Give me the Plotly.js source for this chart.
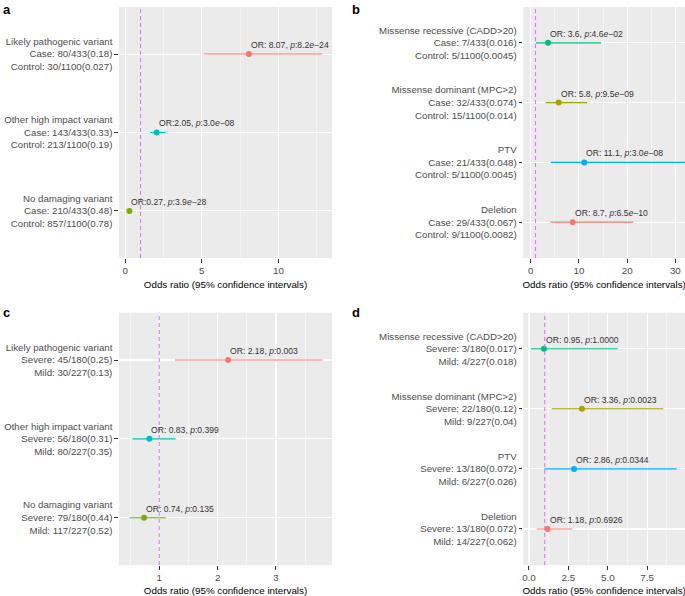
<!DOCTYPE html>
<html>
<head>
<meta charset="utf-8">
<script src="https://cdn.plot.ly/plotly-3.0.1.min.js"></script>
<style>html,body{margin:0;padding:0;background:#fff;}#chart{width:685px;height:596px;}</style>
</head>
<body>
<div id="chart"></div>
<script>
// ---- Panel a: case vs control ----
const namesA = ["Likely pathogenic variant", "Other high impact variant", "No damaging variant"];
const line2A = ["Case: 80/433(0.18)", "Case: 143/433(0.33)", "Case: 210/433(0.48)"];
const line3A = ["Control: 30/1100(0.027)", "Control: 213/1100(0.19)", "Control: 857/1100(0.78)"];
const orA = [8.07, 2.05, 0.27];
const loA = [5.14, 1.63, 0.20];
const hiA = [12.87, 2.64, 0.35];
const pA = ["8.2e−24", "3.0e−08", "3.9e−28"];
const sepA = [" ", "", ""];
const colorsA = ["#F8766D", "#00BFC4", "#7CAE00"];

// ---- Panel b: case vs control ----
const namesB = ["Missense recessive (CADD>20)", "Missense dominant (MPC>2)", "PTV", "Deletion"];
const line2B = ["Case: 7/433(0.016)", "Case: 32/433(0.074)", "Case: 21/433(0.048)", "Case: 29/433(0.067)"];
const line3B = ["Control: 5/1100(0.0045)", "Control: 15/1100(0.014)", "Control: 5/1100(0.0045)", "Control: 9/1100(0.0082)"];
const orB = [3.6, 5.8, 11.1, 8.7];
const loB = [1.1, 3.1, 4.15, 4.07];
const hiB = [14.6, 11.7, 36, 21.3];
const pB = ["4.6e−02", "9.5e−09", "3.0e−08", "6.5e−10"];
const sepB = [" ", " ", " ", " "];
const colorsB = ["#00BF7D", "#A3A500", "#00B0F6", "#F8766D"];

// ---- Panel c: severe vs mild ----
const namesC = ["Likely pathogenic variant", "Other high impact variant", "No damaging variant"];
const line2C = ["Severe: 45/180(0.25)", "Severe: 56/180(0.31)", "Severe: 79/180(0.44)"];
const line3C = ["Mild: 30/227(0.13)", "Mild: 80/227(0.35)", "Mild: 117/227(0.52)"];
const orC = [2.18, 0.83, 0.74];
const loC = [1.27, 0.54, 0.49];
const hiC = [3.80, 1.28, 1.11];
const pC = ["0.003", "0.399", "0.135"];
const sepC = [" ", " ", " "];
const colorsC = ["#F8766D", "#00BFC4", "#7CAE00"];

// ---- Panel d: severe vs mild ----
const namesD = ["Missense recessive (CADD>20)", "Missense dominant (MPC>2)", "PTV", "Deletion"];
const line2D = ["Severe: 3/180(0.017)", "Severe: 22/180(0.12)", "Severe: 13/180(0.072)", "Severe: 13/180(0.072)"];
const line3D = ["Mild: 4/227(0.018)", "Mild: 9/227(0.04)", "Mild: 6/227(0.026)", "Mild: 14/227(0.062)"];
const orD = [0.95, 3.36, 2.86, 1.18];
const loD = [0.13, 1.44, 0.97, 0.49];
const hiD = [5.63, 8.52, 9.37, 2.75];
const pD = ["1.0000", "0.0023", "0.0344", "0.6926"];
const sepD = [" ", " ", " ", " "];
const colorsD = ["#00BF7D", "#A3A500", "#00B0F6", "#F8766D"];

const W = 685, H = 596;
const FONT = "Liberation Sans, Arial, Helvetica, sans-serif";

const panels = [
  {key: "a", names: namesA, l2: line2A, l3: line3A, or: orA, lo: loA, hi: hiA, p: pA, sep: sepA, colors: colorsA,
   px: [119, 332], py: [7, 258], range: [-0.41, 13.5], dtick: 5, tick0: 0, minor: 2.5, ref: "#C77CFF", ax: "", lab: [1, 0], tickfmt: ""},
  {key: "b", names: namesB, l2: line2B, l3: line3B, or: orB, lo: loB, hi: hiB, p: pB, sep: sepB, colors: colorsB,
   px: [523.3, 685], py: [7, 258], range: [-1.54, 32.0], dtick: 10, tick0: 0, minor: 5, ref: "#E76BF3", ax: "2", lab: [350, 0], tickfmt: ""},
  {key: "c", names: namesC, l2: line2C, l3: line3C, or: orC, lo: loC, hi: hiC, p: pC, sep: sepC, colors: colorsC,
   px: [119, 332], py: [312.7, 565], range: [0.31, 3.96], dtick: 1, tick0: 0, minor: 0.5, ref: "#C77CFF", ax: "3", lab: [1, 303], tickfmt: ""},
  {key: "d", names: namesD, l2: line2D, l3: line3D, or: orD, lo: loD, hi: hiD, p: pD, sep: sepD, colors: colorsD,
   px: [523.3, 685], py: [312.7, 565], range: [-0.36, 9.9], dtick: 2.5, tick0: 0, minor: 1.25, ref: "#E76BF3", ax: "4", lab: [350, 303], tickfmt: ".1f"}
];

const traces = [];
const layout = {
  width: W, height: H,
  margin: {l: 0, r: 0, t: 0, b: 0},
  paper_bgcolor: "#FFFFFF",
  plot_bgcolor: "#EBEBEB",
  showlegend: false,
  font: {family: FONT, size: 9.8, color: "#000"},
  annotations: [],
  shapes: []
};

function italicP(s) { return s.replace("e", "<i>e</i>"); }

panels.forEach(P => {
  const n = P.names.length;
  const xa = "x" + P.ax, ya = "y" + P.ax;
  const rows = P.names.map((_, i) => i + 1);
  const ticktext = P.names.map((nm, i) => nm + "<br>" + P.l2[i] + "<br>" + P.l3[i]);

  layout["xaxis" + P.ax] = {
    domain: [P.px[0] / W, P.px[1] / W],
    anchor: ya,
    range: P.range,
    tick0: P.tick0, dtick: P.dtick,
    tickformat: P.tickfmt,
    showgrid: true, gridcolor: "#FFFFFF", gridwidth: 1.1,
    minor: {dtick: P.minor, tick0: P.tick0, showgrid: true, gridcolor: "#FFFFFF", gridwidth: 0.5, ticks: ""},
    zeroline: false, showline: false,
    ticks: "outside", ticklen: 3.7, tickwidth: 1, tickcolor: "#333333",
    tickfont: {family: FONT, size: 9.8, color: "#4D4D4D"},
    title: {text: "Odds ratio (95% confidence intervals)", font: {family: FONT, size: 9.8, color: "#000"}, standoff: 5},
    fixedrange: true
  };
  layout["yaxis" + P.ax] = {
    domain: [1 - P.py[1] / H, 1 - P.py[0] / H],
    anchor: xa,
    range: [n + 0.6, 0.4],
    tickmode: "array", tickvals: rows, ticktext: ticktext,
    showgrid: true, gridcolor: "#FFFFFF", gridwidth: 1.1,
    zeroline: false, showline: false,
    ticks: "outside", ticklen: 3.7, tickwidth: 1, tickcolor: "#333333",
    tickfont: {family: FONT, size: 9.7, color: "#4D4D4D"},
    fixedrange: true
  };

  // reference line at OR = 1
  layout.shapes.push({
    type: "line", xref: xa, yref: ya + " domain", x0: 1, x1: 1, y0: 0, y1: 1,
    line: {color: P.ref, width: 1, dash: "4px,3px"}, layer: "above"
  });

  P.names.forEach((nm, i) => {
    traces.push({
      type: "scatter", mode: "markers", xaxis: xa, yaxis: ya,
      x: [P.or[i]], y: [rows[i]],
      marker: {color: P.colors[i], size: 6},
      error_x: {type: "data", symmetric: false, array: [P.hi[i] - P.or[i]], arrayminus: [P.or[i] - P.lo[i]],
                width: 0, thickness: 1.1, color: P.colors[i]},
      hoverinfo: "skip"
    });
    layout.annotations.push({
      xref: xa, yref: ya, x: P.or[i], y: rows[i],
      xanchor: "left", yanchor: "middle", xshift: 0, yshift: 9,
      text: "OR:" + P.sep[i] + P.or[i] + ", <i>p</i>:" + italicP(P.p[i]),
      showarrow: false,
      font: {family: FONT, size: 8.6, color: "#333333"}
    });
  });

  // panel letter
  layout.annotations.push({
    xref: "paper", yref: "paper", x: P.lab[0] / W, y: 1 - P.lab[1] / H,
    xanchor: "left", yanchor: "top", text: "<b>" + P.key + "</b>", showarrow: false,
    font: {family: FONT, size: 13, color: "#000"}
  });
});

Plotly.newPlot("chart", traces, layout, {displayModeBar: false, staticPlot: true});
</script>
</body>
</html>
